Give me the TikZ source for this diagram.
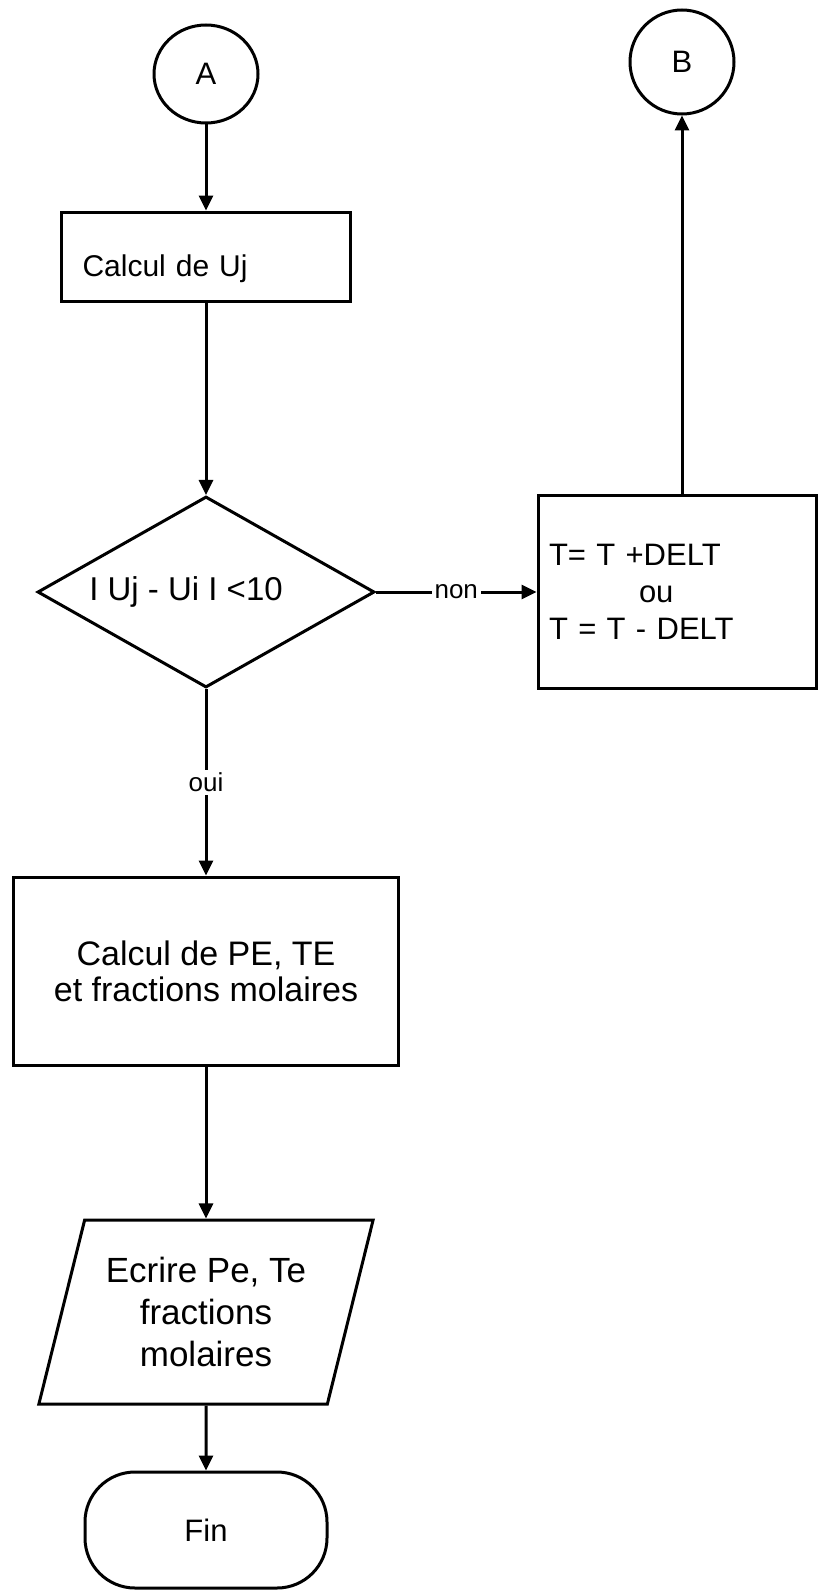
\documentclass[tikz,border=0pt]{standalone}
\usepackage{fontspec}
\setmainfont{Liberation Sans}
\usetikzlibrary{arrows.meta,positioning,shapes.geometric,shapes.misc}

\begin{document}
\begin{tikzpicture}[x=1pt,y=-1pt,line width=3pt,font=\fontsize{31}{37}\selectfont,
  conn/.style={ellipse,draw,minimum width=104pt,minimum height=98pt,inner sep=0pt},
  box/.style={rectangle,draw,inner sep=0pt},
  arr/.style={-{Triangle[length=15pt,width=14pt]}},
  lbl/.style={fill=white,inner sep=3pt,font=\fontsize{26}{30}\selectfont}]
\useasboundingbox (0,0) rectangle (819,1592);
\node[conn] (A) at (206,74) {A};
\node[conn,minimum height=104pt] (B) at (682,62) {B};
\node[box,text width=247pt,align=left,inner xsep=21pt,minimum height=89pt,text height=47pt,text depth=6.5pt,font=\fontsize{30}{36}\selectfont] (uj) at (206,256.5) {Calcul de Uj};
\node[diamond,draw,aspect=1.76,minimum width=337pt,minimum height=191pt,inner sep=0pt,font=\fontsize{33}{37}\selectfont] (test) at (206,592) {\hspace*{-40pt}I Uj - Ui I <10};
\node[box,text width=256pt,align=left,inner xsep=11pt,minimum height=193pt] (delt) at (677,592) {T= T +DELT\\\hspace*{90pt}ou\\T = T - DELT};
\node[box,minimum width=385pt,minimum height=188pt,align=center,font=\fontsize{34}{36}\selectfont] (calc) at (206,971) {Calcul de PE, TE\\et fractions molaires};
\node[trapezium,draw,trapezium left angle=71,trapezium right angle=109,trapezium stretches=true,minimum width=335pt,minimum height=184pt,inner sep=0pt,align=center,font=\fontsize{35}{42}\selectfont] (ecr) at (206,1312) {Ecrire Pe, Te\\fractions\\molaires};
\node[rectangle,rounded corners=50pt,draw,minimum width=242pt,minimum height=116pt] (fin) at (206,1530) {Fin};
\draw[arr] (A) -- (uj);
\draw[arr] (uj) -- (test);
\draw[arr] (test) -- node[lbl] {non} (delt);
\draw[arr] (delt.north -| B) -- (B);
\draw[arr] (test) -- node[lbl] {oui} (calc);
\draw[arr] (calc) -- (ecr);
\draw[arr] (ecr) -- (fin);
\end{tikzpicture}
\end{document}
